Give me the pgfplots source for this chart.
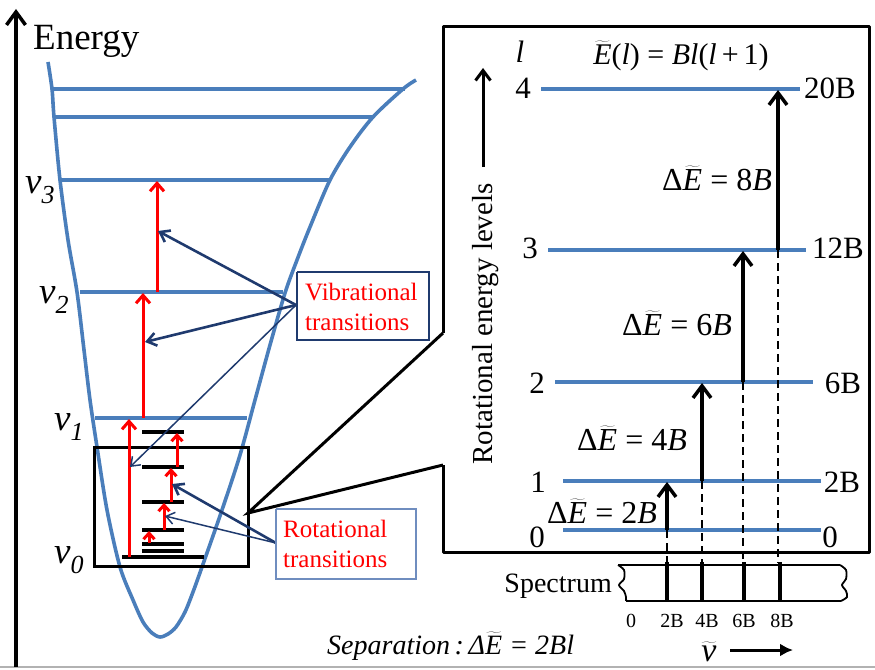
\documentclass[border=0pt]{standalone}
\usepackage{fix-cm}
\usepackage{fontspec}
\setmainfont{Liberation Serif}
\usepackage{pgfplots}
\pgfplotsset{compat=1.18}
\usetikzlibrary{arrows.meta}
\definecolor{pblue}{HTML}{4A7EBB}
\definecolor{navy}{HTML}{1F3A6E}
\definecolor{rbox}{HTML}{6F8DBF}
\newcommand{\Et}{$\widetilde{\mbox{\itshape E}}$}
\newcommand{\fs}[1]{\fontsize{#1}{#1}\selectfont}
\tikzset{
 rarr/.style={red,line width=3pt,-{Straight Barb[length=8pt,width=14pt]}},
 sarr/.style={red,line width=3pt,-{Straight Barb[length=6pt,width=11pt]}},
 karr/.style={black,line width=3.5pt,-{Straight Barb[length=12pt,width=18pt]}},
 narr/.style={navy,line width=2.6pt,-{Straight Barb[length=9pt,width=13pt]}},
 nthin/.style={navy,line width=1.5pt,-{Straight Barb[length=8pt,width=12pt]}},
 lbl/.style={inner sep=0pt,anchor=base},
}
\begin{document}
\begin{tikzpicture}
\begin{axis}[width=875pt,height=669pt,scale only axis,xmin=0,xmax=875,ymin=0,ymax=669,
 y dir=reverse,hide axis,clip=false]
\coordinate (SW) at (axis cs:0,669);
\coordinate (NE) at (axis cs:875,0);
% energy axis and bottom line
\addplot[gray!60,line width=1.2pt] coordinates {(0,667)(875,667)};
\addplot[black,line width=3.5pt,-{Straight Barb[length=13pt,width=19pt]}] coordinates {(16,667)(16,9)};
% potential well
\addplot[pblue,line width=3.6pt,smooth] coordinates {(48,62)(52,89)(54,117)(60,180)(68,240)(77,292)(84,350)(90,400)(97,447)(107,510)(120,567)(133,600)(143,622)(152,633)(160,637)(168,634)(176,627)(185,612)(193,592)(202,567)(222,510)(240,455)(255,400)(270,345)(285,293)(297,260)(310,227)(330,180)(350,147)(373,117)(403,89)(416,80)};
% vibrational levels
\addplot[pblue,line width=3.6pt] coordinates {(52,89)(405,89)};
\addplot[pblue,line width=3.6pt] coordinates {(54,117)(373,117)};
\addplot[pblue,line width=3.6pt] coordinates {(59,180)(330,180)};
\addplot[pblue,line width=3.6pt] coordinates {(80,292)(283,292)};
\addplot[pblue,line width=3.6pt] coordinates {(95,418)(247,418)};
% rotational levels (left)
\addplot[black,line width=4.5pt] coordinates {(122,557)(204,557)};
\addplot[black,line width=4pt] coordinates {(142,432)(184,432)};
\addplot[black,line width=4pt] coordinates {(142,467)(184,467)};
\addplot[black,line width=4pt] coordinates {(142,502)(184,502)};
\addplot[black,line width=4pt] coordinates {(142,530)(184,530)};
\addplot[black,line width=4pt] coordinates {(142,544)(184,544)};
\addplot[black,line width=4pt] coordinates {(142,551)(184,551)};
% zoom rectangle
\addplot[black,line width=3pt,line join=miter] coordinates {(94,447)(248,447)(248,566)(94,566)(94,447)(248,447)};
\addplot[black,line width=3pt,line join=miter] coordinates {(443,333)(248,513)(443,465)};
% right box
\addplot[black,line width=3pt,line join=round] coordinates {(443,333)(443,27)(869,27)(869,552)(443,552)(443,465)};
% red vibrational arrows
\addplot[rarr] coordinates {(129,557)(129,419)};
\addplot[rarr] coordinates {(143,418)(143,293)};
\addplot[rarr] coordinates {(157,292)(157,181)};
% red rotational arrows
\addplot[sarr] coordinates {(149,543)(149,531)};
\addplot[sarr] coordinates {(164,530)(164,503)};
\addplot[sarr] coordinates {(171,502)(171,468)};
\addplot[sarr] coordinates {(177,467)(177,433)};
% pointer arrows
\addplot[narr] coordinates {(296,305)(158,231)};
\addplot[narr] coordinates {(296,305)(145,342)};
\addplot[nthin] coordinates {(296,305)(130,467)};
\addplot[narr] coordinates {(276,543)(172,484)};
\addplot[nthin] coordinates {(276,543)(165,516)};
% label boxes
\addplot[navy,line width=1.3pt] coordinates {(297,272)(429,272)(429,340)(297,340)(297,272)};
\addplot[rbox,line width=1.3pt] coordinates {(276,509)(416,509)(416,579)(276,579)(276,509)};
% right box levels
\addplot[pblue,line width=3.6pt] coordinates {(541,89)(800,89)};
\addplot[pblue,line width=3.6pt] coordinates {(548,250)(806,250)};
\addplot[pblue,line width=3.6pt] coordinates {(555,382)(813,382)};
\addplot[pblue,line width=3.6pt] coordinates {(563,481)(821,481)};
\addplot[pblue,line width=3.6pt] coordinates {(563,530)(821,530)};
% dashed drops
\addplot[black,line width=2.4pt,dash pattern=on 8pt off 5pt] coordinates {(667,530)(667,563)};
\addplot[black,line width=2.4pt,dash pattern=on 8pt off 5pt] coordinates {(702,481)(702,563)};
\addplot[black,line width=2.4pt,dash pattern=on 8pt off 5pt] coordinates {(743,382)(743,563)};
\addplot[black,line width=2.4pt,dash pattern=on 8pt off 5pt] coordinates {(778,250)(778,563)};
% transition arrows
\addplot[karr] coordinates {(667,530)(667,482)};
\addplot[karr] coordinates {(702,481)(702,383)};
\addplot[karr] coordinates {(743,382)(743,251)};
\addplot[karr] coordinates {(778,250)(778,90)};
% rotational energy arrow
\addplot[black,line width=3pt,-{Straight Barb[length=10pt,width=15pt]}] coordinates {(483,167)(483,68)};
% spectrum
\addplot[black,line width=2.4pt] coordinates {(618,565)(840,565)};
\addplot[black,line width=2.4pt] coordinates {(626,601)(841,601)};
\addplot[black,line width=1.8pt,smooth] coordinates {(618,565)(624,570)(624,579)(619,585)(624,591)(626,597)(626,601)};
\addplot[black,line width=1.8pt,smooth] coordinates {(840,565)(846,570)(846,579)(842,585)(846,591)(847,597)(841,601)};
\addplot[black,line width=3.5pt] coordinates {(667,562)(667,601)};
\addplot[black,line width=3.5pt] coordinates {(702,562)(702,601)};
\addplot[black,line width=3.5pt] coordinates {(744,562)(744,601)};
\addplot[black,line width=3.5pt] coordinates {(780,562)(780,601)};
\addplot[black,line width=3pt,-{Latex[length=13pt,width=13pt]}] coordinates {(730,650)(793,650)};
% texts
\node[lbl,anchor=base west,font={\fs{37}}] at (axis cs:33,50) {Energy};
\node[lbl,anchor=base west,font={\fs{37}\itshape}] at (axis cs:25,193) {v\raisebox{-0.28em}{\fs{26}3}};
\node[lbl,anchor=base west,font={\fs{37}\itshape}] at (axis cs:39,303) {v\raisebox{-0.28em}{\fs{26}2}};
\node[lbl,anchor=base west,font={\fs{37}\itshape}] at (axis cs:54,430) {v\raisebox{-0.28em}{\fs{26}1}};
\node[lbl,anchor=base west,font={\fs{37}\itshape}] at (axis cs:54,563) {v\raisebox{-0.28em}{\fs{26}0}};
\node[lbl,anchor=base west,font={\fs{25}},text=red] at (axis cs:305,300) {Vibrational};
\node[lbl,anchor=base west,font={\fs{25}},text=red] at (axis cs:305,330) {transitions};
\node[lbl,anchor=base west,font={\fs{25}},text=red] at (axis cs:283,537) {Rotational};
\node[lbl,anchor=base west,font={\fs{25}},text=red] at (axis cs:283,567) {transitions};
\node[lbl,font={\fs{31}\itshape}] at (axis cs:520,63) {l};
\node[lbl,font={\fs{30}}] at (axis cs:681,64) {\Et(\textit{l}) = \textit{Bl}(\textit{l}\,+\,1)};
\node[lbl,font={\fs{31}}] at (axis cs:523,98) {4};
\node[lbl,font={\fs{31}}] at (axis cs:530,258) {3};
\node[lbl,font={\fs{31}}] at (axis cs:537,393) {2};
\node[lbl,font={\fs{31}}] at (axis cs:538,492) {1};
\node[lbl,font={\fs{31}}] at (axis cs:537,547) {0};
\node[lbl,font={\fs{31}}] at (axis cs:830,98) {20B};
\node[lbl,font={\fs{31}}] at (axis cs:838,258) {12B};
\node[lbl,font={\fs{31}}] at (axis cs:843,393) {6B};
\node[lbl,font={\fs{31}}] at (axis cs:842,492) {2B};
\node[lbl,font={\fs{31}}] at (axis cs:830,547) {0};
\node[lbl,font={\fs{32}}] at (axis cs:717,190) {Δ\Et{} = 8\textit{B}};
\node[lbl,font={\fs{32}}] at (axis cs:677,335) {Δ\Et{} = 6\textit{B}};
\node[lbl,font={\fs{32}}] at (axis cs:632,450) {Δ\Et{} = 4\textit{B}};
\node[lbl,font={\fs{32}}] at (axis cs:602,523) {Δ\Et{} = 2\textit{B}};
\node[lbl,rotate=90,font={\fs{29}}] at (axis cs:492,324) {Rotational energy levels};
\node[lbl,anchor=base east,font={\fs{28}}] at (axis cs:612,592) {Spectrum};
\node[lbl,font={\fs{20}}] at (axis cs:631,627) {0};
\node[lbl,font={\fs{20}}] at (axis cs:672,627) {2B};
\node[lbl,font={\fs{20}}] at (axis cs:707,627) {4B};
\node[lbl,font={\fs{20}}] at (axis cs:744,627) {6B};
\node[lbl,font={\fs{20}}] at (axis cs:782,627) {8B};
\node[lbl,font={\fs{34}}] at (axis cs:709,661) {$\widetilde{\mbox{\itshape v}}$};
\node[lbl,anchor=base west,font={\fs{28}\itshape}] at (axis cs:327,654) {Separation\,:\,Δ\Et{} = 2Bl};
\end{axis}
\pgfresetboundingbox
\path[use as bounding box] (SW) rectangle (NE);
\end{tikzpicture}
\end{document}
